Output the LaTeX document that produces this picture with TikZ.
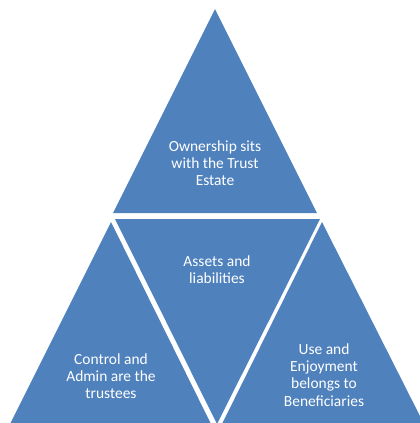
\documentclass[tikz,border=0pt]{standalone}
\usepackage{fontspec}
\setmainfont{Carlito}
\definecolor{pyrblue}{HTML}{4F81BD}
\tikzset{
  piece/.style={fill=pyrblue},
  caption/.style={text=white, align=center, inner sep=0pt,
    font=\fontsize{11}{12.3}\selectfont}
}
\begin{document}
\begin{tikzpicture}[x=0.025cm,y=-0.025cm]
\useasboundingbox (0,0) rectangle (420,423);
\begin{scope}
\clip (0,0) rectangle (420,423);
% the four triangles
\fill[piece] (215,9) -- (113,213) -- (317,213) -- cycle;
\fill[piece] (115,219) -- (320,219) -- (217,424) -- cycle;
\fill[piece] (111,222) -- (10,424) -- (211,424) -- cycle;
\fill[piece] (322,222) -- (222,424) -- (424,424) -- cycle;
\end{scope}
% labels
\node[caption] (own) at (215,163) {Ownership sits\\with the Trust\\Estate};
\node[caption] (assets) at (217,270) {Assets and\\liabilities};
\node[caption] (control) at (111,376) {Control and\\Admin are the\\trustees};
\node[caption] (use) at (324,375) {Use and\\Enjoyment\\belongs to\\Beneficiaries};
\end{tikzpicture}
\end{document}
